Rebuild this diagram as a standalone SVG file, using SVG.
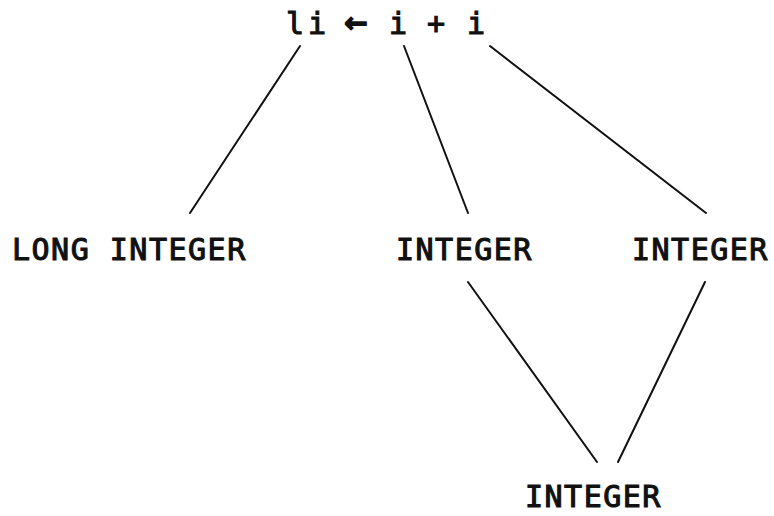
<svg xmlns="http://www.w3.org/2000/svg" width="774" height="516" viewBox="0 0 774 516">
  <style>
    .lbl { font-family: "DejaVu Sans Mono", "Liberation Mono", monospace; font-size: 30px; font-weight: normal; letter-spacing: 1.5px; fill: #111; stroke: #111; stroke-width: 1.1px; }
    .top { letter-spacing: 0; text-anchor: middle; }
    .arrow { font-size: 38px; stroke-width: 1.6px; }
    .edge { stroke: #111; stroke-width: 2; fill: none; stroke-linecap: round; }
  </style>
  <rect width="774" height="516" fill="#fff"/>
  <g id="connectors">
    <line class="edge" x1="300" y1="46" x2="190" y2="213"/>
    <line class="edge" x1="404" y1="46" x2="468" y2="213"/>
    <line class="edge" x1="490" y1="46" x2="706" y2="213"/>
    <line class="edge" x1="468" y1="282" x2="597" y2="462"/>
    <line class="edge" x1="705" y1="282" x2="618" y2="462"/>
  </g>
  <g id="statement">
    <text class="lbl top" x="295 317 336 356 377 398 417 436 456 476" y="34">li <tspan class="arrow">←</tspan> i + i</text>
  </g>
  <g id="long-integer">
    <text class="lbl" x="12" y="260">LONG INTEGER</text>
  </g>
  <g id="integer-left">
    <text class="lbl" x="396" y="260">INTEGER</text>
  </g>
  <g id="integer-right">
    <text class="lbl" x="632" y="260">INTEGER</text>
  </g>
  <g id="integer-result">
    <text class="lbl" x="525" y="507">INTEGER</text>
  </g>
</svg>
